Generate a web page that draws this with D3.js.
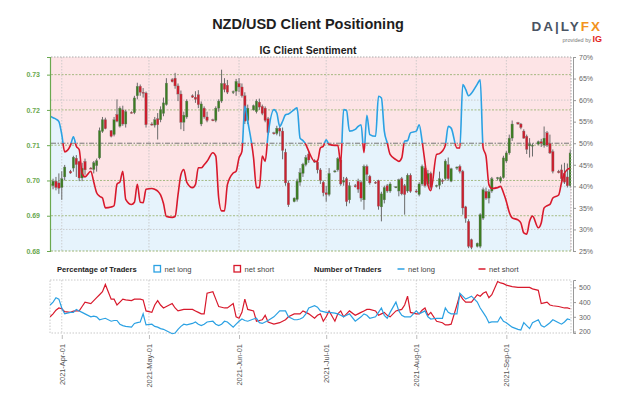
<!DOCTYPE html>
<html>
<head>
<meta charset="utf-8">
<script src="https://cdn.jsdelivr.net/npm/d3@7"></script>
<style>
    body { margin: 0; background: #fff; }
    svg { display: block; font-family: "Liberation Sans", Arial, sans-serif; }
</style>
</head>
<body>
<svg id="chart" width="624" height="416"></svg>
<script>
// Daily NZD/USD candles, Sunday to Friday sessions, one week per line: [open, high, low, close]
var ohlc = [
    [0.6990,0.6998,0.6980,0.6985],[0.6985,0.7005,0.6975,0.6998],[0.6998,0.7010,0.6972,0.6980],[0.6993,0.7020,0.6962,0.6978],[0.6980,0.7026,0.6945,0.7005],[0.7010,0.7044,0.7000,0.7038],
    [0.7026,0.7030,0.7019,0.7021],[0.7035,0.7070,0.7025,0.7066],[0.7063,0.7072,0.7010,0.7045],[0.7054,0.7056,0.6998,0.7007],[0.7007,0.7050,0.6998,0.7035],[0.7054,0.7062,0.7016,0.7030],
    [0.7035,0.7038,0.7032,0.7034],[0.7031,0.7055,0.7020,0.7050],[0.7042,0.7062,0.7025,0.7056],[0.7064,0.7150,0.7060,0.7141],[0.7139,0.7180,0.7135,0.7172],[0.7172,0.7178,0.7145,0.7147],
    [0.7141,0.7143,0.7122,0.7125],[0.7130,0.7180,0.7125,0.7172],[0.7187,0.7230,0.7165,0.7168],[0.7154,0.7210,0.7150,0.7205],[0.7200,0.7212,0.7155,0.7160],[0.7160,0.7200,0.7150,0.7195],
    [0.7193,0.7196,0.7190,0.7192],[0.7192,0.7240,0.7188,0.7234],[0.7240,0.7277,0.7230,0.7267],[0.7267,0.7272,0.7240,0.7250],[0.7250,0.7262,0.7235,0.7248],[0.7248,0.7252,0.7150,0.7158],
    [0.7160,0.7165,0.7155,0.7158],[0.7157,0.7180,0.7150,0.7172],[0.7175,0.7191,0.7116,0.7158],[0.7172,0.7210,0.7165,0.7201],[0.7190,0.7235,0.7182,0.7220],[0.7215,0.7290,0.7212,0.7276],
    [0.7286,0.7290,0.7278,0.7280],[0.7290,0.7305,0.7260,0.7268],[0.7268,0.7275,0.7225,0.7245],[0.7245,0.7255,0.7145,0.7165],[0.7165,0.7195,0.7140,0.7185],[0.7180,0.7230,0.7175,0.7225],
    [0.7240,0.7244,0.7234,0.7236],[0.7236,0.7253,0.7220,0.7230],[0.7243,0.7256,0.7205,0.7215],[0.7160,0.7224,0.7154,0.7217],[0.7205,0.7210,0.7175,0.7180],[0.7180,0.7195,0.7165,0.7170],
    [0.7172,0.7175,0.7168,0.7170],[0.7170,0.7210,0.7165,0.7205],[0.7205,0.7230,0.7195,0.7225],[0.7225,0.7314,0.7220,0.7275],[0.7275,0.7290,0.7250,0.7258],[0.7270,0.7285,0.7245,0.7250],
    [0.7250,0.7255,0.7245,0.7252],[0.7253,0.7288,0.7240,0.7281],[0.7275,0.7290,0.7250,0.7265],[0.7265,0.7275,0.7235,0.7240],[0.7240,0.7250,0.7160,0.7168],[0.7170,0.7215,0.7160,0.7205],
    [0.7200,0.7215,0.7198,0.7212],[0.7195,0.7230,0.7190,0.7225],[0.7222,0.7232,0.7200,0.7208],[0.7210,0.7215,0.7185,0.7190],[0.7205,0.7210,0.7165,0.7170],[0.7175,0.7180,0.7130,0.7135],
    [0.7135,0.7138,0.7130,0.7133],[0.7133,0.7155,0.7128,0.7148],[0.7148,0.7158,0.7125,0.7140],[0.7140,0.7150,0.7060,0.7085],[0.7080,0.7090,0.6985,0.6993],[0.6993,0.7000,0.6925,0.6931],
    [0.6940,0.6952,0.6938,0.6950],[0.6946,0.7005,0.6940,0.6998],[0.6995,0.7035,0.6985,0.7022],[0.7020,0.7050,0.7010,0.7046],[0.7045,0.7072,0.7040,0.7065],[0.7075,0.7082,0.7050,0.7058],
    [0.7055,0.7060,0.7050,0.7052],[0.7052,0.7060,0.7020,0.7030],[0.7030,0.7035,0.6990,0.7000],[0.6995,0.7000,0.6955,0.6965],[0.6965,0.6985,0.6940,0.6960],[0.6960,0.7035,0.6955,0.7020],
    [0.7025,0.7030,0.7022,0.7027],[0.7030,0.7066,0.7025,0.7062],[0.7058,0.7065,0.6985,0.6990],[0.6995,0.7010,0.6985,0.7000],[0.7005,0.7010,0.6927,0.6940],[0.6945,0.6995,0.6935,0.6985],
    [0.6985,0.6990,0.6980,0.6982],[0.6998,0.7005,0.6965,0.6975],[0.6995,0.7000,0.6940,0.6950],[0.6945,0.7045,0.6917,0.7040],[0.7040,0.7045,0.7000,0.7017],[0.7012,0.7016,0.6988,0.6993],
    [0.6995,0.6998,0.6990,0.6993],[0.7000,0.7002,0.6917,0.6927],[0.6925,0.6968,0.6884,0.6962],[0.6945,0.6985,0.6935,0.6980],[0.6985,0.6990,0.6965,0.6970],[0.6970,0.6995,0.6965,0.6990],
    [0.6980,0.6984,0.6978,0.6982],[0.6970,0.7005,0.6955,0.7002],[0.7005,0.7010,0.6958,0.6962],[0.6985,0.6990,0.6903,0.6960],[0.6970,0.7020,0.6965,0.7015],[0.7015,0.7020,0.6965,0.6969],
    [0.6970,0.6975,0.6965,0.6968],[0.6960,0.6995,0.6955,0.6990],[0.6990,0.7045,0.6985,0.7040],[0.7035,0.7040,0.6980,0.6985],[0.6990,0.7030,0.6985,0.7020],[0.7020,0.7025,0.6975,0.6980],
    [0.6985,0.6988,0.6980,0.6986],[0.6986,0.7025,0.6975,0.7005],[0.7000,0.7005,0.6990,0.6997],[0.7005,0.7060,0.7000,0.7055],[0.7045,0.7065,0.7000,0.7005],[0.6998,0.7036,0.6995,0.7033],
    [0.7035,0.7040,0.7030,0.7038],[0.7040,0.7045,0.7020,0.7026],[0.7026,0.7030,0.6903,0.6922],[0.6925,0.6928,0.6880,0.6893],[0.6884,0.6890,0.6808,0.6813],[0.6832,0.6835,0.6805,0.6810],
    [0.6813,0.6824,0.6810,0.6822],[0.6813,0.6907,0.6808,0.6903],[0.6893,0.6980,0.6888,0.6974],[0.6969,0.6980,0.6945,0.6950],[0.6950,0.6975,0.6935,0.6968],[0.6970,0.7010,0.6965,0.7005],
    [0.7005,0.7010,0.7000,0.7008],[0.6998,0.7012,0.6992,0.7008],[0.7008,0.7070,0.7005,0.7064],[0.7055,0.7083,0.7050,0.7078],[0.7078,0.7130,0.7073,0.7120],[0.7120,0.7170,0.7112,0.7160],
    [0.7164,0.7166,0.7158,0.7160],[0.7160,0.7163,0.7145,0.7150],[0.7140,0.7145,0.7118,0.7120],[0.7125,0.7130,0.7075,0.7088],[0.7098,0.7120,0.7065,0.7103],[0.7098,0.7105,0.7068,0.7100],
    [0.7103,0.7113,0.7100,0.7110],[0.7110,0.7118,0.7095,0.7105],[0.7100,0.7153,0.7093,0.7120],[0.7135,0.7140,0.7095,0.7100],[0.7105,0.7130,0.7075,0.7078],[0.7082,0.7088,0.7020,0.7026],
    [0.7026,0.7030,0.7020,0.7022],[0.7030,0.7045,0.6992,0.7005],[0.7020,0.7050,0.6990,0.6995],[0.7010,0.7048,0.6980,0.6985],[0.6985,0.7088,0.6980,0.7078]
];

// Percentage of clients net long, same days
var netLongPct = [
    56.3, 55.9, 55.6, 55.0, 52.0, 48.0,
    49.5, 51.5, 49.3, 48.5, 43.0, 42.2,
    43.5, 41.0, 38.5, 37.7, 37.3, 35.0,
    35.2, 35.5, 40.5, 41.0, 43.5, 37.0,
    35.8, 36.3, 40.5, 36.3, 36.2, 39.3,
    39.5, 39.3, 38.9, 38.0, 36.0, 33.0,
    32.8, 33.0, 38.0, 42.7, 43.9, 41.0,
    39.7, 40.4, 44.3, 44.3, 45.0, 45.8,
    47.8, 47.0, 37.3, 34.3, 34.3, 40.4,
    43.1, 43.5, 46.6, 48.1, 58.6, 55.1,
    46.6, 39.7, 39.7, 47.0, 45.8, 52.0,
    57.8, 57.0, 53.9, 55.1, 56.6, 56.8,
    57.8, 58.2, 51.2, 50.6, 49.7, 48.1,
    45.8, 45.8, 48.9, 49.3, 50.8, 49.7,
    49.5, 49.5, 45.4, 57.8, 57.6, 52.8,
    53.2, 53.9, 54.3, 47.8, 56.5, 52.0,
    51.6, 60.9, 60.5, 52.8, 50.1, 47.4,
    46.2, 45.8, 46.6, 50.5, 50.6, 52.4,
    52.8, 54.3, 50.5, 45.5, 40.4, 39.0,
    47.4, 47.6, 48.2, 49.5, 53.9, 53.5,
    48.9, 48.9, 63.6, 62.5, 61.0, 61.6,
    63.7, 64.7, 49.0, 47.0, 40.4, 39.5,
    39.7, 40.0, 38.5, 36.5, 34.0, 32.7,
    32.2, 31.5, 29.2, 28.9, 31.9, 33.1,
    30.4, 31.5, 35.0, 35.5, 35.8, 37.3,
    38.0, 40.9, 43.0, 43.9, 44.2
];

// Number of traders, same days
var longCount = [
    380, 400, 430, 420, 360, 320,
    330, 330, 350, 340, 330, 320,
    300, 305, 300, 280, 285, 290,
    270, 275, 275, 250, 240, 235,
    230, 255, 260, 265, 320, 245,
    250, 235, 230, 220, 215, 205,
    185, 190, 215, 235, 250, 245,
    255, 265, 250, 240, 250, 265,
    270, 250, 240, 250, 270, 265,
    230, 250, 270, 285, 275, 270,
    285, 290, 260, 255, 265, 275,
    300, 320, 340, 340, 340, 300,
    280, 280, 285, 295, 320, 360,
    375, 365, 340, 335, 330, 330,
    325, 320, 310, 300, 310, 320,
    270, 285, 300, 320, 310, 290,
    300, 330, 360, 310, 290, 330,
    400, 340, 310, 300, 300, 300,
    340, 320, 330, 340, 300, 285,
    290, 290, 290, 360, 330, 320,
    320, 460, 440, 420, 430, 440,
    400, 360, 330, 300, 260, 265,
    265, 300, 270, 260, 245, 230,
    215, 210, 260, 240, 220, 260,
    280, 240, 230, 245, 260, 280,
    260, 250, 265, 285, 280
];
var shortCount = [
    300, 320, 345, 360, 355, 335,
    330, 338, 340, 340, 370, 400,
    390, 410, 430, 450, 470, 520,
    420, 420, 380, 400, 420, 415,
    410, 420, 420, 420, 415, 340,
    330, 380, 410, 380, 360, 370,
    390, 360, 340, 345, 350, 350,
    350, 340, 330, 320, 320, 460,
    470, 420, 370, 365, 360, 360,
    390, 300, 290, 330, 420, 350,
    340, 270, 275, 280, 310, 265,
    250, 255, 260, 270, 280, 300,
    320, 320, 320, 340, 330, 320,
    290, 310, 320, 270, 300, 340,
    270, 320, 340, 300, 320, 340,
    310, 320, 330, 340, 350, 350,
    340, 310, 320, 330, 310, 300,
    340, 345, 350, 380, 440, 330,
    320, 320, 345, 360, 310, 330,
    270, 265, 260, 245, 245, 250,
    380, 450, 420, 400, 400, 400,
    450, 440, 460, 470, 430, 450,
    540, 530, 525, 515, 510, 505,
    500, 500, 500, 500, 500, 490,
    480, 390, 395, 400, 380, 375,
    370, 365, 360, 360, 355
];

var priceTicks = [0.68, 0.69, 0.70, 0.71, 0.72, 0.73];
var pctTicks = [25, 30, 35, 40, 45, 50, 55, 60, 65, 70];
var countTicks = [200, 300, 400, 500];
var monthTicks = ["2021-04-01", "2021-05-01", "2021-06-01", "2021-07-01", "2021-08-01", "2021-09-01"];

// trading sessions: every day except Saturday
var days = d3.utcDay.range(new Date(Date.UTC(2021, 2, 28)), new Date(Date.UTC(2021, 8, 24)))
    .filter(function(d) { return d.getUTCDay() != 6; });

var svg = d3.select("#chart");
var L = 51, R = 571, T = 57, B = 251;
var LT = 280, LB = 333;
var FONT = "\"Liberation Sans\", Arial, sans-serif";

var x = d3.scaleUtc()
    .domain([new Date(Date.UTC(2021, 2, 28, 7)), new Date(Date.UTC(2021, 8, 23, 6))])
    .range([L, R]);
var yPrice = d3.scaleLinear().domain([0.68, 0.735]).range([B, T]);
var yPct = d3.scaleLinear().domain([25, 70]).range([B, T]);
var yCount = d3.scaleLinear().domain([190, 550]).range([LB, LT]);
var monthDates = monthTicks.map(function(s) { return d3.utcParse("%Y-%m-%d")(s); });

var defs = svg.append("defs");
defs.append("clipPath").attr("id", "plot").append("rect")
    .attr("x", L).attr("y", T).attr("width", R - L).attr("height", B - T);
defs.append("clipPath").attr("id", "above").append("rect")
    .attr("x", L).attr("y", T - 5).attr("width", R - L).attr("height", yPct(50) - T + 5);
defs.append("clipPath").attr("id", "below").append("rect")
    .attr("x", L).attr("y", yPct(50)).attr("width", R - L).attr("height", B - yPct(50) + 5);
defs.append("clipPath").attr("id", "lower").append("rect")
    .attr("x", L - 1).attr("y", LT - 2).attr("width", R - L + 2).attr("height", LB - LT + 6);

// Titles
svg.append("text").attr("x", 308).attr("y", 29).attr("text-anchor", "middle")
    .style("font-size", "14.5px").style("font-weight", "bold").attr("fill", "#1e1e1e")
    .text("NZD/USD Client Positioning");
svg.append("text").attr("x", 308).attr("y", 54).attr("text-anchor", "middle")
    .style("font-size", "10.5px").style("font-weight", "bold").attr("fill", "#1e1e1e")
    .text("IG Client Sentiment");

// DailyFX logo
var logo = svg.append("text").attr("x", 602).attr("y", 31).attr("text-anchor", "end")
    .style("font-size", "13.5px").style("font-weight", "bold").style("letter-spacing", "2px");
logo.append("tspan").attr("fill", "#4a5462").text("DA|LY");
logo.append("tspan").attr("fill", "#f39320").text("FX");
var prov = svg.append("text").attr("x", 602).attr("y", 42).attr("text-anchor", "end");
prov.append("tspan").attr("fill", "#777").style("font-size", "5.5px").text("provided by ");
prov.append("tspan").attr("fill", "#e2231a").style("font-size", "9px").style("font-weight", "bold").text("IG");

// Main panel background and sentiment area
var main = svg.append("g").attr("clip-path", "url(#plot)");
main.append("rect").attr("x", L).attr("y", T).attr("width", R - L).attr("height", B - T).attr("fill", "#fde4e6");

var pctArea = d3.area()
    .x(function(d, i) { return x(days[i]); })
    .y0(B)
    .y1(function(d) { return yPct(d); })
    .curve(d3.curveMonotoneX);
main.append("path").datum(netLongPct).attr("d", pctArea).attr("fill", "#e6f3fc");

// Grid lines
main.selectAll("line.mgrid").data(monthDates).enter().append("line")
    .attr("x1", function(d) { return x(d); }).attr("x2", function(d) { return x(d); })
    .attr("y1", T).attr("y2", B)
    .attr("stroke", "#c4c4c4").attr("stroke-width", 0.8).attr("stroke-dasharray", "1.5,1.5");
main.selectAll("line.pgrid").data([30, 40, 60]).enter().append("line")
    .attr("x1", L).attr("x2", R)
    .attr("y1", function(d) { return yPct(d); }).attr("y2", function(d) { return yPct(d); })
    .attr("stroke", "#c4c4c4").attr("stroke-width", 0.8).attr("stroke-dasharray", "1.5,1.5");
main.selectAll("line.ygrid").data(priceTicks.slice(1)).enter().append("line")
    .attr("x1", L).attr("x2", R)
    .attr("y1", function(d) { return yPrice(d); }).attr("y2", function(d) { return yPrice(d); })
    .attr("stroke", "#9cb477").attr("stroke-width", 0.9).attr("stroke-dasharray", "2,1.5");
main.append("line").attr("x1", L).attr("x2", R).attr("y1", yPct(50)).attr("y2", yPct(50))
    .attr("stroke", "#777").attr("stroke-width", 1).attr("stroke-dasharray", "5,1.5,1.5,1.5");

// Candles
var candles = main.selectAll("g.candle").data(ohlc).enter().append("g");
candles.append("line")
    .attr("x1", function(d, i) { return x(days[i]); }).attr("x2", function(d, i) { return x(days[i]); })
    .attr("y1", function(d) { return yPrice(d[1]); }).attr("y2", function(d) { return yPrice(d[2]); })
    .attr("stroke", "#6b6b6b").attr("stroke-width", 1);
candles.append("rect")
    .attr("x", function(d, i) { return x(days[i]) - 1.2; })
    .attr("width", 2.4)
    .attr("y", function(d) { return yPrice(Math.max(d[0], d[3])); })
    .attr("height", function(d) { return Math.max(1, Math.abs(yPrice(d[0]) - yPrice(d[3]))); })
    .attr("fill", function(d) { return d[3] >= d[0] ? "#3c7d22" : "#cc1f2e"; })
    .attr("stroke", "#777").attr("stroke-width", 0.3);

// Sentiment line: blue above 50%, red below
var pctLine = d3.line()
    .x(function(d, i) { return x(days[i]); })
    .y(function(d) { return yPct(d); })
    .curve(d3.curveMonotoneX);
main.append("path").datum(netLongPct).attr("d", pctLine).attr("clip-path", "url(#above)")
    .attr("fill", "none").attr("stroke", "#2ba1e3").attr("stroke-width", 1.6);
main.append("path").datum(netLongPct).attr("d", pctLine).attr("clip-path", "url(#below)")
    .attr("fill", "none").attr("stroke", "#d8192c").attr("stroke-width", 1.6);

// Plot border
svg.append("line").attr("x1", L).attr("x2", R).attr("y1", T).attr("y2", T)
    .attr("stroke", "#aaa").attr("stroke-dasharray", "1.5,1.5");
svg.append("line").attr("x1", R).attr("x2", R).attr("y1", T).attr("y2", B)
    .attr("stroke", "#aaa").attr("stroke-dasharray", "1.5,1.5");
svg.append("line").attr("x1", L).attr("x2", R).attr("y1", B).attr("y2", B)
    .attr("stroke", "#9cb477").attr("stroke-dasharray", "2,1.5");

// Left price axis
var leftAxis = svg.append("g").attr("transform", "translate(" + (L - 1) + ",0)")
    .call(d3.axisLeft(yPrice).tickValues(priceTicks).tickFormat(d3.format(".2f"))
        .tickSize(3).tickSizeOuter(3).tickPadding(7));
leftAxis.select(".domain").attr("stroke", "#6aa84f").attr("stroke-width", 1.2);
leftAxis.selectAll(".tick line").attr("stroke", "#6aa84f");
leftAxis.selectAll(".tick text").attr("fill", "#6aa84f").style("font-size", "7px").style("font-weight", "bold")
    .style("font-family", FONT);

// Right percentage axis
var rightAxis = svg.append("g").attr("transform", "translate(" + (R + 2) + ",0)")
    .call(d3.axisRight(yPct).tickValues(pctTicks).tickFormat(function(d) { return d + "%"; }).tickSize(3).tickSizeOuter(3));
rightAxis.select(".domain").attr("stroke", "#999");
rightAxis.selectAll(".tick line").attr("stroke", "#999");
rightAxis.selectAll(".tick text").attr("fill", "#666").style("font-size", "7px")
    .style("font-family", FONT);

// Legend
var leg = svg.append("g").style("font-size", "7.6px");
leg.append("text").attr("x", 57).attr("y", 272).style("font-weight", "bold").attr("fill", "#222").text("Percentage of Traders");
leg.append("rect").attr("x", 154).attr("y", 265.5).attr("width", 6.5).attr("height", 6.5)
    .attr("fill", "#fff").attr("stroke", "#2ba1e3").attr("stroke-width", 1.3);
leg.append("text").attr("x", 164.5).attr("y", 272).attr("fill", "#444").text("net long");
leg.append("rect").attr("x", 234).attr("y", 265.5).attr("width", 6.5).attr("height", 6.5)
    .attr("fill", "#fff").attr("stroke", "#d8192c").attr("stroke-width", 1.3);
leg.append("text").attr("x", 244.5).attr("y", 272).attr("fill", "#444").text("net short");
leg.append("text").attr("x", 314).attr("y", 272).style("font-weight", "bold").attr("fill", "#222").text("Number of Traders");
leg.append("line").attr("x1", 397.5).attr("x2", 404.5).attr("y1", 269).attr("y2", 269)
    .attr("stroke", "#2ba1e3").attr("stroke-width", 1.5);
leg.append("text").attr("x", 408).attr("y", 272).attr("fill", "#444").text("net long");
leg.append("line").attr("x1", 478.5).attr("x2", 485.5).attr("y1", 269).attr("y2", 269)
    .attr("stroke", "#d8192c").attr("stroke-width", 1.5);
leg.append("text").attr("x", 489).attr("y", 272).attr("fill", "#444").text("net short");

// Lower panel: number of traders
var lower = svg.append("g");
lower.selectAll("line.lgrid").data(monthDates).enter().append("line")
    .attr("x1", function(d) { return x(d); }).attr("x2", function(d) { return x(d); })
    .attr("y1", LT).attr("y2", LB)
    .attr("stroke", "#c4c4c4").attr("stroke-width", 0.8).attr("stroke-dasharray", "1.5,1.5");
lower.append("rect").attr("x", L - 1).attr("y", LT).attr("width", R - L + 1).attr("height", LB - LT)
    .attr("fill", "none").attr("stroke", "#bbb").attr("stroke-width", 0.8).attr("stroke-dasharray", "1.5,1.5");

var countLine = d3.line()
    .x(function(d, i) { return x(days[i]); })
    .y(function(d) { return yCount(d); });
lower.append("path").datum(shortCount).attr("d", countLine).attr("clip-path", "url(#lower)")
    .attr("fill", "none").attr("stroke", "#d8192c").attr("stroke-width", 1.2);
lower.append("path").datum(longCount).attr("d", countLine).attr("clip-path", "url(#lower)")
    .attr("fill", "none").attr("stroke", "#2ba1e3").attr("stroke-width", 1.2);

var countAxis = svg.append("g").attr("transform", "translate(" + (R + 2) + ",0)")
    .call(d3.axisRight(yCount).tickValues(countTicks).tickSize(3).tickSizeOuter(3));
countAxis.select(".domain").attr("stroke", "#999");
countAxis.selectAll(".tick line").attr("stroke", "#999");
countAxis.selectAll(".tick text").attr("fill", "#666").style("font-size", "7px")
    .style("font-family", FONT);

// Month labels
var xAxis = svg.append("g").attr("transform", "translate(0," + (LB + 2) + ")")
    .call(d3.axisBottom(x).tickValues(monthDates).tickFormat(d3.utcFormat("%Y-%b-%d")).tickSize(4));
xAxis.select(".domain").remove();
xAxis.selectAll(".tick line").attr("stroke", "#bbb");
xAxis.selectAll(".tick text")
    .attr("transform", "rotate(-90)")
    .attr("text-anchor", "end")
    .attr("x", -9).attr("y", 0).attr("dy", "0.35em")
    .attr("fill", "#555").style("font-size", "7.4px")
    .style("font-family", FONT);
</script>
</body>
</html>
